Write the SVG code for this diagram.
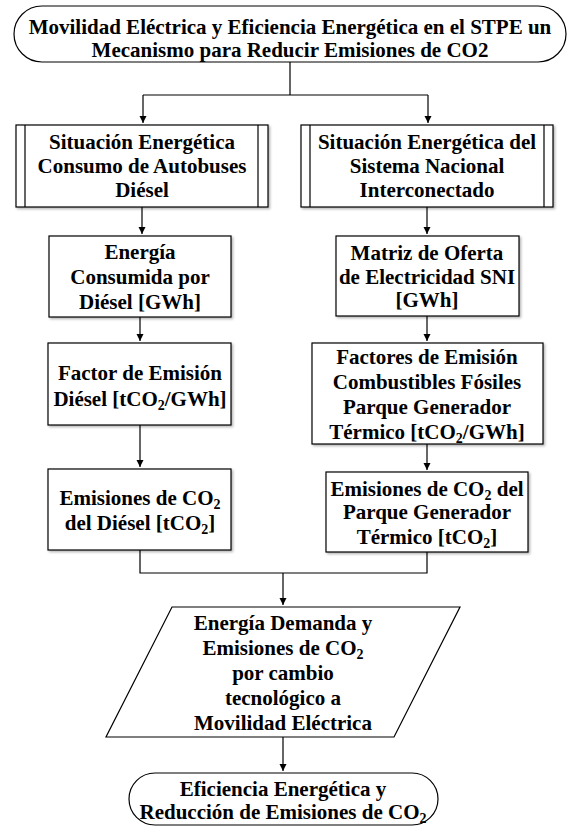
<svg xmlns="http://www.w3.org/2000/svg" width="569" height="829" viewBox="0 0 569 829">
<defs>
<marker id="ah" markerWidth="8" markerHeight="8" refX="7" refY="4" orient="auto" markerUnits="userSpaceOnUse">
<path d="M0,0.5 L7,4 L0,7.5 Z" fill="#000"/>
</marker>
<filter id="sh" x="-5%" y="-5%" width="110%" height="115%">
<feDropShadow dx="1.5" dy="1.5" stdDeviation="0.8" flood-color="#000" flood-opacity="0.3"/>
</filter>
</defs>
<g id="connectors" fill="none" stroke="#000" stroke-width="1.2">
<path d="M290,62 V95 M143,95 H428"/>
<path d="M143,95 V123" marker-end="url(#ah)"/>
<path d="M428,95 V123" marker-end="url(#ah)"/>
<path d="M142,207 V234" marker-end="url(#ah)"/>
<path d="M427,207 V234" marker-end="url(#ah)"/>
<path d="M140,317 V341" marker-end="url(#ah)"/>
<path d="M427,316 V341" marker-end="url(#ah)"/>
<path d="M140,425 V467" marker-end="url(#ah)"/>
<path d="M427,444 V470" marker-end="url(#ah)"/>
<path d="M140,550 V573 H427 V552"/>
<path d="M283,573 V605" marker-end="url(#ah)"/>
<path d="M283,737 V771" marker-end="url(#ah)"/>
</g>
<g id="n_top">
<rect fill="#fff" stroke="#000" stroke-width="1.2" x="14" y="6" width="552" height="56" rx="28" ry="28"/>
<text font-family="Liberation Serif" font-weight="bold" font-size="21" text-anchor="middle" x="290" y="34">Movilidad Eléctrica y Eficiencia Energética en el STPE un</text>
<text font-family="Liberation Serif" font-weight="bold" font-size="21" text-anchor="middle" x="290" y="57">Mecanismo para Reducir Emisiones de CO2</text>
</g>
<g id="n_sit_diesel">
<rect fill="#fff" stroke="#000" stroke-width="1.2" x="16" y="125" width="252" height="82" filter="url(#sh)"/>
<path fill="none" stroke="#000" stroke-width="1.2" d="M25,125 V207 M258,125 V207"/>
<text font-family="Liberation Serif" font-weight="bold" font-size="21" text-anchor="middle" x="142" y="149">Situación Energética</text>
<text font-family="Liberation Serif" font-weight="bold" font-size="21" text-anchor="middle" x="142" y="173">Consumo de Autobuses</text>
<text font-family="Liberation Serif" font-weight="bold" font-size="21" text-anchor="middle" x="142" y="197">Diésel</text>
</g>
<g id="n_sit_sni">
<rect fill="#fff" stroke="#000" stroke-width="1.2" x="301" y="125" width="252" height="82" filter="url(#sh)"/>
<path fill="none" stroke="#000" stroke-width="1.2" d="M310,125 V207 M544,125 V207"/>
<text font-family="Liberation Serif" font-weight="bold" font-size="21" text-anchor="middle" x="427" y="149">Situación Energética del</text>
<text font-family="Liberation Serif" font-weight="bold" font-size="21" text-anchor="middle" x="427" y="173">Sistema Nacional</text>
<text font-family="Liberation Serif" font-weight="bold" font-size="21" text-anchor="middle" x="427" y="197">Interconectado</text>
</g>
<g id="n_energia_diesel">
<rect fill="#fff" stroke="#000" stroke-width="1.2" x="49" y="236" width="182" height="81" filter="url(#sh)"/>
<text font-family="Liberation Serif" font-weight="bold" font-size="21" text-anchor="middle" x="140" y="259">Energía</text>
<text font-family="Liberation Serif" font-weight="bold" font-size="21" text-anchor="middle" x="140" y="284">Consumida por</text>
<text font-family="Liberation Serif" font-weight="bold" font-size="21" text-anchor="middle" x="140" y="309">Diésel [GWh]</text>
</g>
<g id="n_matriz">
<rect fill="#fff" stroke="#000" stroke-width="1.2" x="336" y="236" width="183" height="80" filter="url(#sh)"/>
<text font-family="Liberation Serif" font-weight="bold" font-size="21" text-anchor="middle" x="427" y="260">Matriz de Oferta</text>
<text font-family="Liberation Serif" font-weight="bold" font-size="21" text-anchor="middle" x="427" y="284">de Electricidad SNI</text>
<text font-family="Liberation Serif" font-weight="bold" font-size="21" text-anchor="middle" x="427" y="307">[GWh]</text>
</g>
<g id="n_factor_diesel">
<rect fill="#fff" stroke="#000" stroke-width="1.2" x="48" y="343" width="183" height="82" filter="url(#sh)"/>
<text font-family="Liberation Serif" font-weight="bold" font-size="21" text-anchor="middle" x="140" y="380">Factor de Emisión</text>
<text font-family="Liberation Serif" font-weight="bold" font-size="21" text-anchor="middle" x="140" y="406">Diésel [tCO<tspan font-size="14" baseline-shift="-4">2</tspan>/GWh]</text>
</g>
<g id="n_factores_sni">
<rect fill="#fff" stroke="#000" stroke-width="1.2" x="312" y="343" width="231" height="101" filter="url(#sh)"/>
<text font-family="Liberation Serif" font-weight="bold" font-size="21" text-anchor="middle" x="427" y="364">Factores de Emisión</text>
<text font-family="Liberation Serif" font-weight="bold" font-size="21" text-anchor="middle" x="427" y="389">Combustibles Fósiles</text>
<text font-family="Liberation Serif" font-weight="bold" font-size="21" text-anchor="middle" x="427" y="414">Parque Generador</text>
<text font-family="Liberation Serif" font-weight="bold" font-size="21" text-anchor="middle" x="427" y="439">Térmico [tCO<tspan font-size="14" baseline-shift="-4">2</tspan>/GWh]</text>
</g>
<g id="n_emis_diesel">
<rect fill="#fff" stroke="#000" stroke-width="1.2" x="48" y="469" width="183" height="81" filter="url(#sh)"/>
<text font-family="Liberation Serif" font-weight="bold" font-size="21" text-anchor="middle" x="140" y="505">Emisiones de CO<tspan font-size="14" baseline-shift="-4">2</tspan></text>
<text font-family="Liberation Serif" font-weight="bold" font-size="21" text-anchor="middle" x="140" y="530">del Diésel [tCO<tspan font-size="14" baseline-shift="-4">2</tspan>]</text>
</g>
<g id="n_emis_sni">
<rect fill="#fff" stroke="#000" stroke-width="1.2" x="326" y="472" width="202" height="80" filter="url(#sh)"/>
<text font-family="Liberation Serif" font-weight="bold" font-size="21" text-anchor="middle" x="427" y="496">Emisiones de CO<tspan font-size="14" baseline-shift="-4">2</tspan> del</text>
<text font-family="Liberation Serif" font-weight="bold" font-size="21" text-anchor="middle" x="427" y="519">Parque Generador</text>
<text font-family="Liberation Serif" font-weight="bold" font-size="21" text-anchor="middle" x="427" y="544">Térmico [tCO<tspan font-size="14" baseline-shift="-4">2</tspan>]</text>
</g>
<g id="n_demanda">
<polygon fill="#fff" stroke="#000" stroke-width="1.2" points="172,607 460,607 394,737 106,737"/>
<text font-family="Liberation Serif" font-weight="bold" font-size="21" text-anchor="middle" x="283" y="630">Energía Demanda y</text>
<text font-family="Liberation Serif" font-weight="bold" font-size="21" text-anchor="middle" x="283" y="655">Emisiones de CO<tspan font-size="14" baseline-shift="-4">2</tspan></text>
<text font-family="Liberation Serif" font-weight="bold" font-size="21" text-anchor="middle" x="283" y="680">por cambio</text>
<text font-family="Liberation Serif" font-weight="bold" font-size="21" text-anchor="middle" x="283" y="705">tecnológico a</text>
<text font-family="Liberation Serif" font-weight="bold" font-size="21" text-anchor="middle" x="283" y="730">Movilidad Eléctrica</text>
</g>
<g id="n_end">
<rect fill="#fff" stroke="#000" stroke-width="1.2" x="129" y="773" width="309" height="52" rx="26" ry="26"/>
<text font-family="Liberation Serif" font-weight="bold" font-size="21" text-anchor="middle" x="283" y="796">Eficiencia Energética y</text>
<text font-family="Liberation Serif" font-weight="bold" font-size="21" text-anchor="middle" x="283" y="819">Reducción de Emisiones de CO<tspan font-size="14" baseline-shift="-4">2</tspan></text>
</g>
</svg>
